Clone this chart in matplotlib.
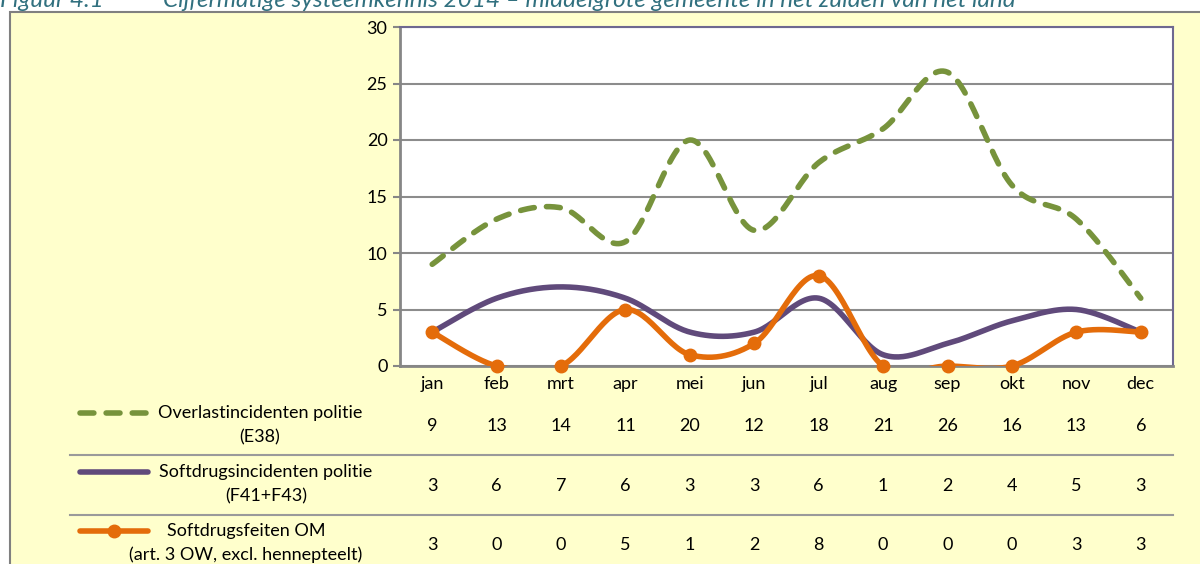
import numpy as np
import matplotlib.pyplot as plt
from matplotlib.lines import Line2D
from matplotlib.transforms import blended_transform_factory

plt.rcParams['font.family'] = ['Lato', 'DejaVu Sans']

maanden = ['jan', 'feb', 'mrt', 'apr', 'mei', 'jun', 'jul', 'aug', 'sep', 'okt', 'nov', 'dec']
overlast = [9, 13, 14, 11, 20, 12, 18, 21, 26, 16, 13, 6]
softdrugs_politie = [3, 6, 7, 6, 3, 3, 6, 1, 2, 4, 5, 3]
softdrugs_om = [3, 0, 0, 5, 1, 2, 8, 0, 0, 0, 3, 3]

reeks_namen = [('Overlastincidenten politie', '(E38)'),
               ('Softdrugsincidenten politie', '(F41+F43)'),
               ('Softdrugsfeiten OM', '(art. 3 OW, excl. hennepteelt)')]

groen = '#77933C'
paars = '#604A7B'
oranje = '#E46C0A'
W, H = 1200, 564
fs = 13


def smooth(y, n=30):
    # excel-achtige gladde lijn (bezier met catmull-rom controlepunten)
    x = np.arange(len(y), dtype=float)
    y = np.asarray(y, dtype=float)
    px = np.concatenate([[x[0]], x, [x[-1]]])
    py = np.concatenate([[y[0]], y, [y[-1]]])
    xs, ys = [], []
    t = np.linspace(0, 1, n)
    for i in range(len(y) - 1):
        p0 = np.array([px[i + 1], py[i + 1]])
        p3 = np.array([px[i + 2], py[i + 2]])
        c1 = p0 + (np.array([px[i + 2], py[i + 2]]) - np.array([px[i], py[i]])) / 6
        c2 = p3 - (np.array([px[i + 3], py[i + 3]]) - np.array([px[i + 1], py[i + 1]])) / 6
        b = ((1 - t) ** 3)[:, None] * p0 + (3 * (1 - t) ** 2 * t)[:, None] * c1 \
            + (3 * (1 - t) * t ** 2)[:, None] * c2 + (t ** 3)[:, None] * p3
        xs.append(b[:, 0])
        ys.append(b[:, 1])
    return np.concatenate(xs), np.concatenate(ys)


fig = plt.figure(figsize=(12, 5.64), dpi=100)
fig.patch.set_facecolor('white')

# gele achtergrond met rand
fig.patches.append(plt.Rectangle((10 / W, -0.1), 1.2, 1 - 12 / H + 0.1, transform=fig.transFigure,
                                 facecolor='#FFFFCC', edgecolor='#808080', linewidth=1.5, zorder=-5))

fig.text(0.0, 1 - 7 / H, 'Figuur 4.1', fontsize=17.5, style='italic', color='#31707F', va='baseline')
fig.text(163 / W, 1 - 7 / H,
         'Cijfermatige systeemkennis 2014 \u2013 middelgrote gemeente in het zuiden van het land',
         fontsize=17.5, style='italic', color='#31707F', va='baseline')

ax = fig.add_axes([400 / W, 1 - 366 / H, 773 / W, 339 / H])
ax.set_zorder(2)
ax.set_facecolor('white')
ax.set_xlim(-0.5, 11.5)
ax.set_ylim(0, 30)
ax.set_yticks(range(0, 31, 5))
ax.set_xticks(range(12))
ax.set_xticklabels(maanden)
ax.tick_params(axis='x', length=0, pad=7, labelsize=fs, colors='black')
ax.tick_params(axis='y', length=5, width=1.5, color='#868686', labelsize=fs, pad=4)
ax.grid(axis='y', color='#8C8C8C', linewidth=1.5)
ax.set_axisbelow(True)
for s in ['top', 'right']:
    ax.spines[s].set_color('#6E6890')
    ax.spines[s].set_linewidth(1.5)
for s in ['left', 'bottom']:
    ax.spines[s].set_color('#868686')
    ax.spines[s].set_linewidth(2)

xs, ys = smooth(overlast)
ax.plot(xs, ys, color=groen, linewidth=4, dashes=(2.5, 2.2), dash_capstyle='round', zorder=3)
xs, ys = smooth(softdrugs_politie)
ax.plot(xs, ys, color=paars, linewidth=4, solid_capstyle='round', zorder=3)
xs, ys = smooth(softdrugs_om)
ax.plot(xs, ys, color=oranje, linewidth=4, solid_capstyle='round', zorder=4)
ax.plot(range(12), softdrugs_om, linestyle='none', marker='o', markersize=9, color=oranje,
        zorder=5, clip_on=False)

# tabel onder de grafiek
tr = blended_transform_factory(ax.transData, fig.transFigure)
reeksen = [overlast, softdrugs_politie, softdrugs_om]
rij_y = [426, 486, 545]
for waarden, yy in zip(reeksen, rij_y):
    for i, v in enumerate(waarden):
        ax.text(i, 1 - yy / H, str(v), transform=tr, ha='center', va='center', fontsize=fs,
                clip_on=False)

for yy in [455, 515]:
    fig.add_artist(Line2D([70 / W, 1173 / W], [1 - yy / H, 1 - yy / H], color='#9A9A9A',
                          linewidth=1.5, transform=fig.transFigure))

naam_x = [260, 266, 246]
naam_y = [(413, 437), (472, 496), (531, 555)]
for (a, b), nx, (y1, y2) in zip(reeks_namen, naam_x, naam_y):
    fig.text(nx / W, 1 - y1 / H, a, ha='center', va='center', fontsize=fs)
    fig.text(nx / W, 1 - y2 / H, b, ha='center', va='center', fontsize=fs)

# legenda-symbolen
fig.add_artist(Line2D([80 / W, 146 / W], [1 - 413 / H] * 2, color=groen, linewidth=4,
                      dashes=(2.5, 2.2), dash_capstyle='round', transform=fig.transFigure))
fig.add_artist(Line2D([80 / W, 148 / W], [1 - 472 / H] * 2, color=paars, linewidth=4,
                      solid_capstyle='round', transform=fig.transFigure))
fig.add_artist(Line2D([80 / W, 148 / W], [1 - 531 / H] * 2, color=oranje, linewidth=4,
                      solid_capstyle='round', transform=fig.transFigure))
fig.add_artist(Line2D([114 / W], [1 - 531 / H], color=oranje, marker='o', markersize=9,
                      transform=fig.transFigure))

fig.savefig('out.png', dpi=100)
